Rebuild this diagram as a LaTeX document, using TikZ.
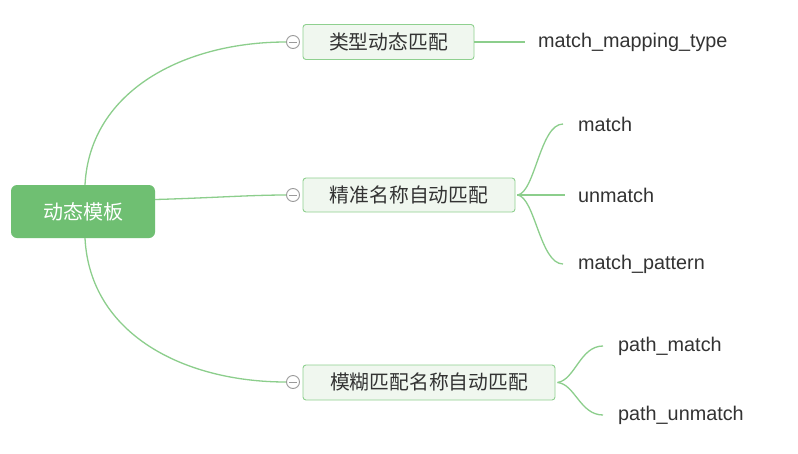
\documentclass[tikz,border=0pt]{standalone}
\usepackage{fontspec}
\setmainfont{Liberation Sans}
\newfontfamily\cjk{Noto Sans CJK SC}
\definecolor{rootgreen}{HTML}{6FBF72}
\definecolor{linegreen}{HTML}{8CCE8C}
\definecolor{boxfill}{HTML}{F0F7EF}
\definecolor{boxline}{HTML}{8FD08F}
\definecolor{txt}{HTML}{333333}
\definecolor{circ}{HTML}{9A9A9A}
\begin{document}
\begin{tikzpicture}[x=1pt,y=-1pt,
  rootbox/.style={draw=none,fill=rootgreen,rounded corners=6pt,text=white,font=\cjk\fontsize{20}{22}\selectfont,inner sep=0pt},
  subbox/.style={draw=boxline,line width=0.9pt,fill=boxfill,rounded corners=3pt,text=txt,font=\cjk\fontsize{19.8}{22}\selectfont,inner sep=0pt},
  leaf/.style={anchor=west,text=txt,font=\fontsize{19.8}{22}\selectfont,inner sep=0pt},
  conn/.style={draw=linegreen,line width=1.3pt},
  foldc/.style={circle,draw=circ,fill=white,line width=0.9pt,minimum size=13pt,inner sep=0pt}
]
\useasboundingbox (0,0) rectangle (798,453);
\fill[white] (0,0) rectangle (798,453);

% root
\node[rootbox,minimum width=144pt,minimum height=53pt] (root) at (83,211.5) {动态模板};

% second-level boxes
\node[subbox,minimum width=171pt,minimum height=35pt] (n1) at (388.5,42) {类型动态匹配};
\node[subbox,minimum width=212pt,minimum height=34pt] (n2) at (409,195) {精准名称自动匹配};
\node[subbox,minimum width=252pt,minimum height=35pt] (n3) at (429,382.5) {模糊匹配名称自动匹配};

% fold circles
\node[foldc] (c1) at (293,42) {};
\node[foldc] (c2) at (293,195) {};
\node[foldc] (c3) at (293,382) {};
\foreach \c in {c1,c2,c3}{
  \draw[circ,line width=0.9pt] ([xshift=-4pt]\c.center) -- ([xshift=4pt]\c.center);
}

% leaves
\node[leaf] (l1) at (538,42) {match\_mapping\_type};
\node[leaf] (m1) at (578,124) {match};
\node[leaf] (m2) at (578,195) {unmatch};
\node[leaf] (m3) at (578,264) {match\_pattern};
\node[leaf] (p1) at (618,346) {path\_match};
\node[leaf] (p2) at (618,415) {path\_unmatch};

% root connectors
\draw[conn] ([xshift=2pt]root.north) .. controls (90,90) and (185,42) .. (c1.west);
\draw[conn] ([yshift=12pt]root.east) .. controls (210,198) and (250,195) .. (c2.west);
\draw[conn] ([xshift=2pt]root.south) .. controls (90,335) and (185,382) .. (c3.west);

% n1 connector
\draw[conn] (n1.east) -- ([xshift=-13pt]l1.west);

% n2 branches
\coordinate (b2) at ([xshift=2pt]n2.east);
\draw[conn] (b2) .. controls (535,193) and (540,124) .. ([xshift=-15pt]m1.west);
\draw[conn] (b2) -- ([xshift=-13pt]m2.west);
\draw[conn] (b2) .. controls (535,197) and (540,264) .. ([xshift=-15pt]m3.west);

% n3 branches
\coordinate (b3) at ([xshift=2pt]n3.east);
\draw[conn] (b3) .. controls (575,380) and (580,346) .. ([xshift=-15pt]p1.west);
\draw[conn] (b3) .. controls (575,384) and (580,415) .. ([xshift=-15pt]p2.west);
\end{tikzpicture}
\end{document}
